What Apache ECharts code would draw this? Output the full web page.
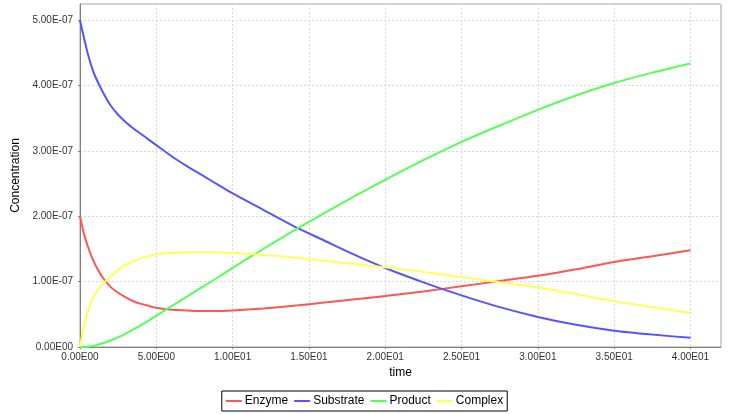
<!DOCTYPE html>
<html>
<head>
<meta charset="utf-8">
<script src="https://cdn.jsdelivr.net/npm/echarts@6/dist/echarts.min.js"></script>
<style>html,body{margin:0;padding:0;background:#fff;}#c{width:729px;height:414px;}</style>
</head>
<body>
<div id="c"></div>
<script>
// time values
const times = [0,0.25,0.5,0.75,1,1.5,2,2.5,3,3.5,4,4.5,5,6,7,8,9,10,12,14,16,18,20,22.5,25,27.5,30,32.5,35,37.5,40];
// concentrations, in units of 1e-7
const enzyme    = [2.00,1.74,1.55,1.39,1.26,1.06,0.92,0.83,0.76,0.70,0.66,0.63,0.60,0.57,0.56,0.55,0.55,0.56,0.59,0.63,0.68,0.73,0.78,0.85,0.93,1.01,1.09,1.19,1.30,1.39,1.48];
const substrate = [5.00,4.74,4.50,4.30,4.14,3.90,3.70,3.555,3.44,3.345,3.26,3.175,3.09,2.92,2.77,2.63,2.49,2.35,2.10,1.85,1.63,1.41,1.21,0.99,0.79,0.61,0.46,0.34,0.25,0.19,0.14];
const product   = [0.00,0.001,0.005,0.013,0.025,0.058,0.10,0.15,0.205,0.268,0.335,0.405,0.48,0.625,0.77,0.915,1.06,1.21,1.50,1.78,2.05,2.31,2.56,2.86,3.14,3.39,3.63,3.85,4.04,4.20,4.34];
const complex   = [0.00,0.32,0.54,0.70,0.82,0.97,1.08,1.18,1.26,1.31,1.36,1.39,1.42,1.44,1.45,1.45,1.45,1.44,1.41,1.37,1.32,1.27,1.22,1.15,1.07,0.99,0.91,0.81,0.70,0.61,0.52];
const UNIT = 1e-7;
const seriesNames = ['Enzyme','Substrate','Product','Complex'];
const seriesData = [enzyme, substrate, product, complex];
const colors = ['#FF5555','#5555FF','#55FF55','#FFFF55'];

function sci(v){
  if (Math.abs(v) < 1e-30) return '0.00E00';
  let e = Math.floor(Math.log10(Math.abs(v)) + 1e-9);
  let ms = (v / Math.pow(10, e)).toFixed(2);
  if (parseFloat(ms) >= 10) { e += 1; ms = (v / Math.pow(10, e)).toFixed(2); }
  const es = (e < 0 ? '-' : '') + String(Math.abs(e)).padStart(2, '0');
  return ms + 'E' + es;
}

const font = '"Liberation Sans", Arial, sans-serif';
const chart = echarts.init(document.getElementById('c'), null, {renderer:'canvas'});
chart.setOption({
  animation: false,
  backgroundColor: '#ffffff',
  color: colors,
  grid: {left: 80, top: 4, width: 641, height: 343, show: true, borderColor: '#a0a0a0', borderWidth: 1, backgroundColor: '#ffffff'},
  xAxis: {
    type: 'value', min: 0, max: 42, interval: 5,
    name: 'time', nameLocation: 'middle', nameGap: 20,
    nameTextStyle: {fontFamily: font, fontSize: 12, color: '#000'},
    axisLine: {show: true, onZero: false, lineStyle: {color: '#808080'}},
    axisTick: {show: true, length: 2, lineStyle: {color: '#808080'}},
    axisLabel: {fontFamily: font, fontSize: 10, color: '#333', margin: 5, showMaxLabel: false, formatter: v => sci(v)},
    splitLine: {show: true, lineStyle: {color: '#d8d8d8', type: [2,2], width: 1}}
  },
  yAxis: {
    type: 'value', min: 0, max: 5.25e-7, interval: 1e-7,
    name: 'Concentration', nameLocation: 'middle', nameGap: 55,
    nameTextStyle: {fontFamily: font, fontSize: 12, color: '#000'},
    axisLine: {show: true, lineStyle: {color: '#808080'}},
    axisTick: {show: true, length: 2, lineStyle: {color: '#808080'}},
    axisLabel: {fontFamily: font, fontSize: 10, color: '#333', margin: 7, showMaxLabel: false, formatter: v => sci(v)},
    splitLine: {show: true, lineStyle: {color: '#d8d8d8', type: [2,2], width: 1}}
  },
  legend: {
    left: 'center', top: 391,
    data: seriesNames.map(n => ({name: n, icon: 'rect'})),
    itemWidth: 16, itemHeight: 2, itemGap: 6,
    padding: [4, 4, 4, 4],
    borderColor: '#000', borderWidth: 1,
    textStyle: {fontFamily: font, fontSize: 12, color: '#000', padding: [0,0,0,-2]}
  },
  series: seriesNames.map((n, i) => ({
    name: n, type: 'line', showSymbol: false, smooth: 0.25,
    lineStyle: {width: 2, color: colors[i]},
    itemStyle: {color: colors[i]},
    data: times.map((t, k) => [t, seriesData[i][k] * UNIT])
  }))
});
</script>
</body>
</html>
